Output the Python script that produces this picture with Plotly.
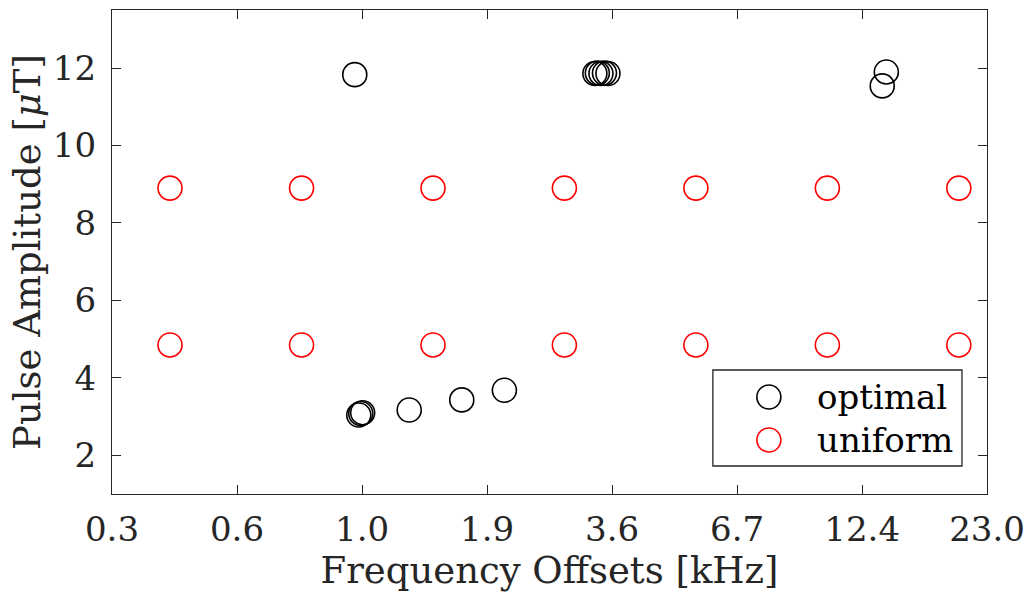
import numpy as np
import plotly.graph_objects as go

# ---- data ----
tick_vals = [0.3, 0.5577, 1.0368, 1.9275, 3.5833, 6.6615, 12.384, 23.0]
tick_text = ["0.3", "0.6", "1.0", "1.9", "3.6", "6.7", "12.4", "23.0"]
y_ticks = [2, 4, 6, 8, 10, 12]

optimal_freq = [1.00, 1.02, 1.03, 1.04, 1.31, 1.70, 2.10,
                3.29, 3.33, 3.39, 3.45, 3.51, 13.68, 13.96]
optimal_amp = [11.83, 3.04, 3.08, 3.10, 3.17, 3.43, 3.68,
               11.86, 11.87, 11.86, 11.87, 11.86, 11.54, 11.90]

uniform_freq = [0.400, 0.768, 1.474, 2.828, 5.429, 10.42, 20.0] * 2
uniform_amp = [8.90] * 7 + [4.85] * 7

series_names = ["optimal", "uniform"]
series_colors = ["black", "red"]

AX = "#262626"
FONT = "DejaVu Serif"
MSIZE = 24
MLW = 1.6

fig = go.Figure()
for name, xs, ys, col in zip(series_names,
                             [optimal_freq, uniform_freq],
                             [optimal_amp, uniform_amp],
                             series_colors):
    fig.add_trace(go.Scatter(
        x=xs, y=ys, mode="markers", name=name, showlegend=False,
        marker=dict(symbol="circle-open", size=MSIZE, color=col,
                    line=dict(width=MLW, color=col)),
    ))

# custom legend (MATLAB style, large markers) on an overlay axis in plot-fraction units
leg_x0, leg_x1, leg_y0, leg_y1 = 0.6867, 0.9714, 0.0579, 0.2562
leg_rows_y = [0.2004, 0.1116]
leg_marker_x = 0.7507
leg_text_x = 0.8035
fig.add_shape(type="rect", xref="x domain", yref="y domain",
              x0=leg_x0, x1=leg_x1, y0=leg_y0, y1=leg_y1,
              line=dict(color=AX, width=1.3), fillcolor="white", layer="below")
for name, col, yy in zip(series_names, series_colors, leg_rows_y):
    fig.add_trace(go.Scatter(
        x=[leg_marker_x], y=[yy], xaxis="x2", yaxis="y2", mode="markers",
        showlegend=False, hoverinfo="skip",
        marker=dict(symbol="circle-open", size=MSIZE, color=col,
                    line=dict(width=MLW, color=col)),
    ))
    fig.add_annotation(xref="x domain", yref="y domain", x=leg_text_x, y=yy,
                       text=name, showarrow=False, xanchor="left", yanchor="middle",
                       font=dict(family=FONT, size=34, color="black"))

axis_common = dict(
    ticks="inside", ticklen=9, tickwidth=1.3, tickcolor=AX,
    showline=True, linecolor=AX, linewidth=1.3, mirror="ticks",
    showgrid=False, zeroline=False, automargin=False,
    tickfont=dict(family=FONT, size=34, color=AX),
)

fig.update_layout(
    width=1032, height=594,
    margin=dict(l=112, r=45, t=10, b=100, autoexpand=False),
    paper_bgcolor="white", plot_bgcolor="white",
    font=dict(family=FONT, color=AX, size=34),
    showlegend=False,
    xaxis=dict(
        type="log", range=[np.log10(0.3), np.log10(23.0)],
        tickmode="array", tickvals=tick_vals, ticktext=tick_text,
        ticklabelstandoff=5,
        title=dict(text="Frequency Offsets [kHz]",
                   font=dict(family=FONT, size=37, color=AX), standoff=8),
        **axis_common,
    ),
    yaxis=dict(
        range=[1, 13.5],
        tickmode="array", tickvals=y_ticks,
        ticklabelstandoff=8,
        title=dict(text="Pulse Amplitude [<i>μ</i>T]",
                   font=dict(family=FONT, size=37, color=AX), standoff=0),
        **axis_common,
    ),
    xaxis2=dict(overlaying="x", range=[0, 1], visible=False, anchor="y2"),
    yaxis2=dict(overlaying="y", range=[0, 1], visible=False, anchor="x2"),
)

fig.write_html("out.html", config={"displayModeBar": False},
               post_script="document.body.style.margin='0';document.body.style.overflow='hidden';")
